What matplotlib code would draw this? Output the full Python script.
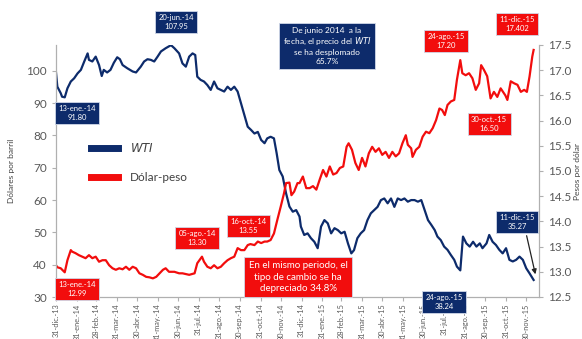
import numpy as np
import pandas as pd
import matplotlib
matplotlib.use("Agg")
from matplotlib import pyplot as plt
from matplotlib.lines import Line2D

plt.rcParams['font.family'] = ['Lato', 'DejaVu Sans']

# days counted from 31-dic-2013
wti_days = [0, 2, 7, 9, 13, 17, 22, 27, 32, 37, 42, 47, 49, 54, 59, 64, 68, 71, 76, 81,
            86, 91, 95, 99, 106, 114, 119, 126, 131, 136, 141, 146, 151, 156, 163, 171, 176, 183, 188, 193,
            198, 203, 207, 210, 215, 220, 225, 230, 235, 240, 245, 250, 255, 260, 265, 270, 275, 280, 285, 290,
            295, 300, 305, 310, 314, 319, 324, 328, 332, 337, 342, 347, 352, 357, 362, 364, 369, 374, 379, 384,
            389, 394, 399, 404, 409, 414, 419, 424, 429, 434, 439, 443, 448, 453, 458, 463, 468, 473, 478, 483,
            488, 493, 498, 503, 508, 513, 518, 523, 528, 533, 538, 543, 548, 553, 558, 563, 567, 572, 577, 582,
            587, 592, 596, 601, 605, 610, 615, 620, 625, 630, 634, 640, 644, 649, 654, 659, 664, 669, 674, 679,
            684, 689, 694, 699, 704, 710]
wti = [99.5, 95.1, 93.1, 92.0, 91.8, 94.6, 96.7, 97.7, 99.2, 100.3, 102.9, 105.4, 103.4, 102.9, 104.4, 101.8, 98.4, 100.3, 99.5, 100.3,
       102.5, 104.2, 103.6, 101.8, 100.8, 99.8, 99.5, 101.3, 102.9, 103.6, 103.4, 102.9, 104.4, 106.0, 107.0, 107.95, 107.0, 105.4, 102.3, 101.3,
       104.4, 105.4, 104.9, 98.2, 97.2, 96.7, 95.6, 94.1, 96.7, 94.6, 94.1, 93.6, 95.1, 94.1, 95.1, 93.6, 90.0, 86.3, 82.7, 81.7,
       80.6, 81.1, 78.6, 77.6, 79.1, 79.6, 79.1, 74.5, 69.3, 67.3, 62.1, 58.0, 56.4, 56.9, 54.9, 51.8, 49.2, 49.7, 48.2, 47.1,
       45.1, 51.8, 53.8, 52.8, 49.7, 51.3, 50.7, 49.7, 50.2, 46.6, 43.5, 44.5, 48.2, 49.7, 50.7, 53.8, 55.9, 56.9, 57.9, 60.0,
       60.5, 59.0, 60.5, 57.9, 60.5, 60.0, 60.5, 59.5, 60.0, 60.0, 59.5, 60.0, 56.9, 53.8, 52.3, 50.7, 48.7, 47.6, 45.6, 44.6,
       43.0, 41.5, 39.4, 38.24, 48.7, 46.6, 45.6, 47.1, 45.6, 46.6, 45.1, 46.6, 49.2, 47.1, 46.1, 44.6, 43.5, 45.1, 41.5, 41.0,
       41.5, 42.5, 41.5, 38.9, 37.3, 35.27]

peso_days = [0, 2, 7, 13, 17, 22, 24, 29, 34, 39, 44, 49, 54, 59, 64, 69, 74, 79, 84, 89,
             94, 99, 104, 109, 114, 119, 124, 129, 134, 139, 144, 149, 154, 159, 163, 168, 176, 183, 188, 198,
             206, 210, 217, 220, 225, 230, 235, 240, 245, 250, 255, 260, 265, 270, 275, 280, 285, 289, 295, 300,
             305, 310, 314, 319, 324, 329, 334, 339, 342, 347, 350, 354, 359, 362, 367, 372, 377, 382, 387, 392,
             397, 402, 407, 412, 417, 422, 427, 432, 435, 440, 445, 450, 455, 460, 465, 470, 475, 480, 485, 490,
             495, 500, 505, 510, 515, 520, 523, 528, 530, 535, 540, 545, 550, 555, 560, 565, 570, 574, 578, 582,
             587, 592, 596, 601, 604, 609, 614, 619, 624, 629, 632, 636, 641, 646, 651, 656, 661, 668, 671, 676,
             681, 686, 691, 696, 700, 704, 708, 710]
peso = [13.13, 13.09, 13.07, 12.99, 13.23, 13.43, 13.40, 13.37, 13.33, 13.30, 13.27, 13.33, 13.27, 13.30, 13.20, 13.23, 13.23, 13.13, 13.07, 13.04,
        13.07, 13.05, 13.10, 13.04, 13.10, 13.07, 12.97, 12.94, 12.90, 12.89, 12.87, 12.90, 12.97, 13.04, 13.07, 13.00, 13.00, 12.97, 12.97, 12.94,
        12.97, 13.17, 13.30, 13.20, 13.10, 13.07, 13.13, 13.07, 13.10, 13.17, 13.23, 13.27, 13.30, 13.47, 13.43, 13.43, 13.53, 13.55, 13.53, 13.60,
        13.57, 13.60, 13.60, 13.63, 13.76, 14.03, 14.29, 14.56, 14.76, 14.77, 14.52, 14.59, 14.76, 14.76, 14.89, 14.66, 14.66, 14.70, 14.63, 14.83,
        15.02, 14.89, 15.09, 14.93, 14.96, 15.06, 15.09, 15.48, 15.55, 15.42, 15.16, 15.02, 15.26, 15.09, 15.35, 15.48, 15.38, 15.45, 15.32, 15.38,
        15.26, 15.38, 15.29, 15.35, 15.55, 15.71, 15.52, 15.45, 15.28, 15.42, 15.48, 15.68, 15.78, 15.75, 15.85, 16.01, 16.24, 16.21, 16.11, 16.31,
        16.38, 16.41, 16.81, 17.20, 16.94, 16.90, 16.94, 16.84, 16.61, 16.74, 17.10, 17.01, 16.88, 16.44, 16.57, 16.47, 16.64, 16.50, 16.41, 16.78,
        16.74, 16.71, 16.57, 16.61, 16.57, 16.88, 17.27, 17.402]

tick_dates = ['2013-12-31', '2014-01-31', '2014-02-28', '2014-03-31', '2014-04-30', '2014-05-31',
              '2014-06-30', '2014-07-31', '2014-08-31', '2014-09-30', '2014-10-31', '2014-11-30',
              '2014-12-31', '2015-01-31', '2015-02-28', '2015-03-31', '2015-04-30', '2015-05-31',
              '2015-06-30', '2015-07-31', '2015-08-31', '2015-09-30', '2015-10-31', '2015-11-30']
tick_labels = ['31-dic.-13', '31-ene.-14', '28-feb.-14', '31-mar.-14', '30-abr.-14', '31-may.-14',
               '30-jun.-14', '31-jul.-14', '31-ago.-14', '30-sep.-14', '31-oct.-14', '30-nov.-14',
               '31-dic.-14', '31-ene.-15', '28-feb.-15', '31-mar.-15', '30-abr.-15', '31-may.-15',
               '30-jun.-15', '31-jul.-15', '31-ago.-15', '30-sep.-15', '31-oct.-15', '30-nov.-15']

navy = '#0d2b6b'
red = '#f20d0d'
gray = '#595959'
axis_gray = '#b0b0b0'

base = pd.Timestamp('2013-12-31')
wti_x = base + pd.to_timedelta(wti_days, unit='D')
peso_x = base + pd.to_timedelta(peso_days, unit='D')

W, H = 582, 339
fig = plt.figure(figsize=(W / 100, H / 100), dpi=100)
ax = fig.add_axes([56 / W, 42 / H, 483 / W, 252 / H])
ax2 = ax.twinx()

ax.plot(wti_x, wti, color=navy, lw=1.6)
ax2.plot(peso_x, peso, color=red, lw=1.6)

ax.set_xlim(base, base + pd.Timedelta(days=718))
ax.set_ylim(30, 108)
ax.set_yticks(range(30, 101, 10))
ax2.set_ylim(12.5, 17.5)
ax2.set_yticks(np.arange(12.5, 17.6, 0.5))
ax.set_xticks(pd.to_datetime(tick_dates))
ax.set_xticklabels(tick_labels, rotation=90, fontsize=5.3, color=gray)

for a in (ax, ax2):
    a.spines['top'].set_visible(False)
    for s in ('left', 'right', 'bottom'):
        a.spines[s].set_color(axis_gray)
    a.tick_params(colors=axis_gray, labelcolor=gray, length=3, width=0.8)
ax.tick_params(axis='x', pad=1.5)
ax.tick_params(axis='y', labelsize=8.5)
ax2.tick_params(axis='y', labelsize=8.5)
ax2.set_yticklabels(['%.1f' % v for v in np.arange(12.5, 17.6, 0.5)])

ax.set_ylabel('Dólares por barril', fontsize=6, color='#404040', labelpad=8)
ax2.set_ylabel('Pesos por dólar', fontsize=6, color='#404040', labelpad=2)

handles = [Line2D([], [], color=navy, lw=5), Line2D([], [], color=red, lw=5)]
leg = ax.legend(handles, ['$\\it{WTI}$', 'Dólar-peso'], loc='upper left',
                bbox_to_anchor=(0.05, 0.66), frameon=False, fontsize=8.5,
                handlelength=2.3, labelspacing=1.5, handletextpad=1.0)
for t in leg.get_texts():
    t.set_color('#404040')


def box(x, y, txt, fc, fs=5.5):
    fig.text(x / W, 1 - y / H, txt, ha='center', va='center', color='white',
             fontsize=fs, linespacing=1.3,
             bbox=dict(boxstyle='square,pad=0.45', fc=fc, ec='#d0d8e8', lw=0.6))


box(176, 22, '20-jun.-14\n107.95', navy)
box(77, 113, '13-ene.-14\n91.80', navy)
box(327, 46, 'De junio 2014  a la\nfecha, el precio del $\\it{WTI}$\nse ha desplomado\n65.7%', navy, fs=6)
box(446, 41, '24-ago.-15\n17.20', red)
box(517, 24, '11-dic.-15\n17.402', red)
box(489, 124, '30-oct.-15\n16.50', red)
box(197, 238, '05-ago.-14\n13.30', red)
box(248, 226, '16-oct.-14\n13.55', red)
box(77, 289, '13-ene.-14\n12.99', red)
box(298, 277, 'En el mismo periodo, el\ntipo de cambio se ha\ndepreciado 34.8%', red, fs=7)
box(444, 302, '24-ago.-15\n38.24', navy)
box(517, 222, '11-dic.-15\n35.27', navy)

ax.annotate('', xy=(536 / W, 1 - 277 / H), xytext=(526 / W, 1 - 233 / H),
            xycoords='figure fraction', textcoords='figure fraction',
            arrowprops=dict(arrowstyle='-|>', color='#222222', lw=0.9, mutation_scale=7))

fig.savefig('out.png', dpi=100)
